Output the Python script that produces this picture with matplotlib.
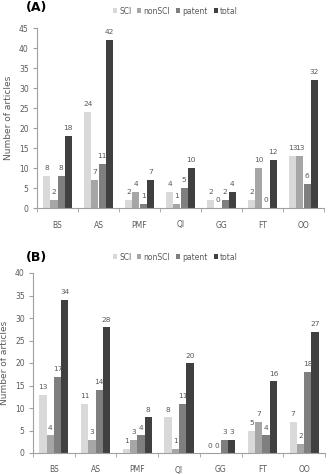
import numpy as np
import matplotlib.pyplot as plt

categories = ['BS', 'AS', 'PMF', 'QI', 'GG', 'FT', 'OO']
series = ['SCI', 'nonSCI', 'patent', 'total']
colors = ['#d9d9d9', '#a6a6a6', '#7f7f7f', '#404040']

# panel A
a_sci = [8, 24, 2, 4, 2, 2, 13]
a_nonsci = [2, 7, 4, 1, 0, 10, 13]
a_patent = [8, 11, 1, 5, 2, 0, 6]
a_total = [18, 42, 7, 10, 4, 12, 32]

# panel B
b_sci = [13, 11, 1, 8, 0, 5, 7]
b_nonsci = [4, 3, 3, 1, 0, 7, 2]
b_patent = [17, 14, 4, 11, 3, 4, 18]
b_total = [34, 28, 8, 20, 3, 16, 27]

W, H = 331, 474
fig = plt.figure(figsize=(W / 100, H / 100), dpi=100)
txt = '#595959'


def panel(rect, data, ymax, tag, tag_xy, leg_y):
    ax = fig.add_axes(rect)
    ind = np.arange(len(categories))
    width = 0.175
    for i, (vals, c, name) in enumerate(zip(data, colors, series)):
        x = ind + (i - 1.5) * width
        ax.bar(x, vals, width, color=c, label=name)
        for xi, v in zip(x, vals):
            ax.text(xi, v + ymax * 0.025, str(v), ha='center', va='bottom',
                    fontsize=5.3, color=txt)
    ax.set_xlim(-0.5, len(categories) - 0.5)
    ax.set_ylim(0, ymax)
    ax.set_yticks(range(0, ymax + 1, 5))
    ax.set_xticks(ind)
    ax.set_xticklabels(categories)
    ax.set_xticks(np.arange(-0.5, len(categories)), minor=True)
    ax.tick_params(axis='x', which='major', length=0, pad=9,
                   labelsize=5.5, labelcolor=txt)
    ax.tick_params(axis='x', which='minor', length=3, color='#a0a0a0')
    ax.tick_params(axis='y', length=3, color='#a0a0a0', labelsize=5.5,
                   labelcolor=txt, pad=3)
    for s in ['top', 'right']:
        ax.spines[s].set_visible(False)
    for s in ['left', 'bottom']:
        ax.spines[s].set_color('#a0a0a0')
        ax.spines[s].set_linewidth(0.8)
    ax.set_ylabel('Number of articles', fontsize=6.5, color=txt, labelpad=4)
    fig.text(tag_xy[0] / W, 1 - tag_xy[1] / H, tag, fontsize=9,
             fontweight='bold', va='center')
    handles, labels = ax.get_legend_handles_labels()
    fig.legend(handles, labels, loc='center',
               bbox_to_anchor=(0.53, 1 - leg_y / H), ncol=4,
               frameon=False, fontsize=5.5, handlelength=0.5,
               handleheight=0.6, handletextpad=0.3, columnspacing=0.8,
               labelcolor=txt)
    return ax


ax_a = panel([37 / W, 1 - 208 / H, 287 / W, 180 / H],
             [a_sci, a_nonsci, a_patent, a_total], 45, '(A)', (26, 7), 11)
ax_b = panel([33 / W, 1 - 453 / H, 292 / W, 180 / H],
             [b_sci, b_nonsci, b_patent, b_total], 40, '(B)', (26, 257), 257)

fig.savefig('out.png', dpi=100)
